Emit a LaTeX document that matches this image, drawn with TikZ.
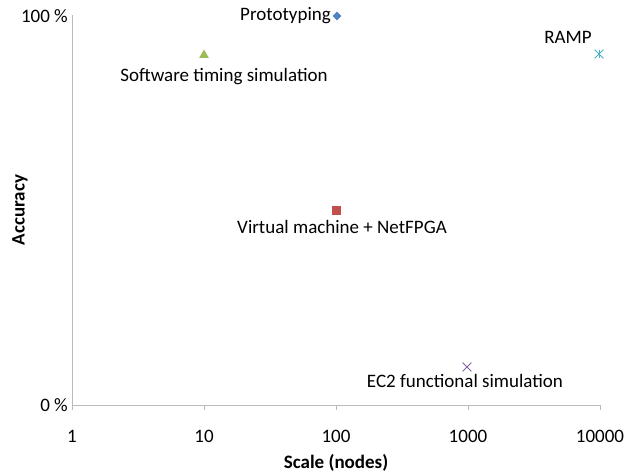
\documentclass[tikz,border=0pt]{standalone}
\usepackage{fontspec}
\setmainfont{Carlito}
\usetikzlibrary{shapes.geometric,shapes.misc}
\definecolor{axisgray}{HTML}{BBBBBB}
\definecolor{protoblue}{HTML}{4F81BD}
\definecolor{simgreen}{HTML}{9BBB59}
\definecolor{vmred}{HTML}{C0504D}
\definecolor{ectwo}{HTML}{8064A2}
\definecolor{rampcyan}{HTML}{4BACC6}

\begin{document}
\begin{tikzpicture}[x=1pt,y=-1pt]
\tikzstyle{every node}+=[inner sep=0pt, font=\fontsize{19}{22}\selectfont]
\useasboundingbox (0,0) rectangle (639,474);
% axes
\coordinate (o) at (72,405);
\coordinate (ytop) at (72,15);
\coordinate (xend) at (600,405);
\draw [axisgray] (ytop) -- (o) -- (xend);
\foreach \x/\v in {72/1,204/10,336/100,468/1000,600/10000} {
  \draw [axisgray] (\x,405) -- (\x,410);
  \draw (\x,436) node {\v};
}
\draw (68,16) node [left] {100 \%};
\draw (68,405) node [left] {0 \%};
\draw (336,463) node {\bfseries Scale (nodes)};
\draw (20,210) node [rotate=90] {\bfseries Accuracy};
% points
\node (proto) at (337,16) [diamond, fill=protoblue, minimum size=9pt] {};
\node [anchor=east] (protolbl) at (331,16) {Prototyping};
\node (soft) at (204,55) [regular polygon, regular polygon sides=3, fill=simgreen, minimum size=11pt] {};
\node (softlbl) at (224,77) {Software timing simulation};
\node (vm) at (336,210) [rectangle, fill=vmred, minimum size=9pt] {};
\node (vmlbl) at (342,227) {Virtual machine + NetFPGA};
\node (ec) at (467,367) [cross out, draw=ectwo, thick, minimum size=8pt] {};
\node (eclbl) at (465,381) {EC2 functional simulation};
\node (ramp) at (599,54) [cross out, draw=rampcyan, thick, minimum size=8pt] {};
\draw [rampcyan, thick] (ramp.north) -- (ramp.south);
\node (ramplbl) at (568,37) {RAMP};
\end{tikzpicture}
\end{document}
